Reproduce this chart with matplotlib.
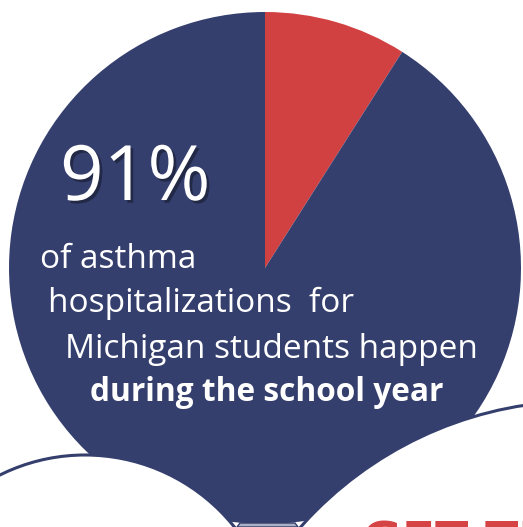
import matplotlib
matplotlib.use("Agg")
import matplotlib.pyplot as plt
import matplotlib.patheffects as pe
from matplotlib.patches import Circle, Polygon

# data
slice_labels = ["outside school year", "during school year"]
slice_values = [9, 91]
slice_colors = ["#d24142", "#353f6e"]

big_number = "91%"
caption_lines = ["of asthma", "hospitalizations  for", "Michigan students happen"]
caption_bold = "during the school year"
bottom_word = "GET THE"

navy = "#353f6e"
W, H = 523, 527

fig = plt.figure(figsize=(W / 100, H / 100), dpi=100)
ax = fig.add_axes([0, 0, 1, 1])

# pie, centre at (265, 268) in picture pixels, y flipped for matplotlib
ax.pie(slice_values, colors=slice_colors, startangle=90, counterclock=False,
       center=(265, H - 268), radius=256, wedgeprops=dict(linewidth=0))

ax.set_xlim(0, W)
ax.set_ylim(0, H)
ax.set_aspect("auto")
ax.axis("off")

# white speech bubbles cutting the bottom of the pie
ax.add_patch(Circle((85, H - 646), 191, facecolor="white", edgecolor=navy, lw=2.2, zorder=3))
ax.add_patch(Circle((581, H - 776), 375, facecolor="white", edgecolor=navy, lw=2.2, zorder=3))
ax.add_patch(Polygon([(237, 0), (240, H - 523), (295, H - 523), (298, 0)],
                     facecolor="#aab0c6", edgecolor=navy, lw=1, zorder=2))

shadow = [pe.withSimplePatchShadow(offset=(2, -2), shadow_rgbFace="black", alpha=0.35)]

ax.text(60, H - 200, big_number, color="white", fontsize=55, family="Open Sans",
        ha="left", va="baseline", zorder=4, path_effects=shadow)

xs = [40, 48, 65]
ys = [H - 268, H - 312, H - 358]
for s, x, y in zip(caption_lines, xs, ys):
    ax.text(x, y, s, color="white", fontsize=24, family="Open Sans",
            ha="left", va="baseline", zorder=4)
ax.text(90, H - 401, caption_bold, color="white", fontsize=22.8, family="Open Sans",
        fontweight="bold", ha="left", va="baseline", zorder=4)

ax.text(362, -30, bottom_word, color="#d54345", fontsize=35, fontweight="bold",
        family="DejaVu Sans", ha="left", va="baseline", zorder=4, clip_on=False)

fig.savefig("out.png", dpi=100)
